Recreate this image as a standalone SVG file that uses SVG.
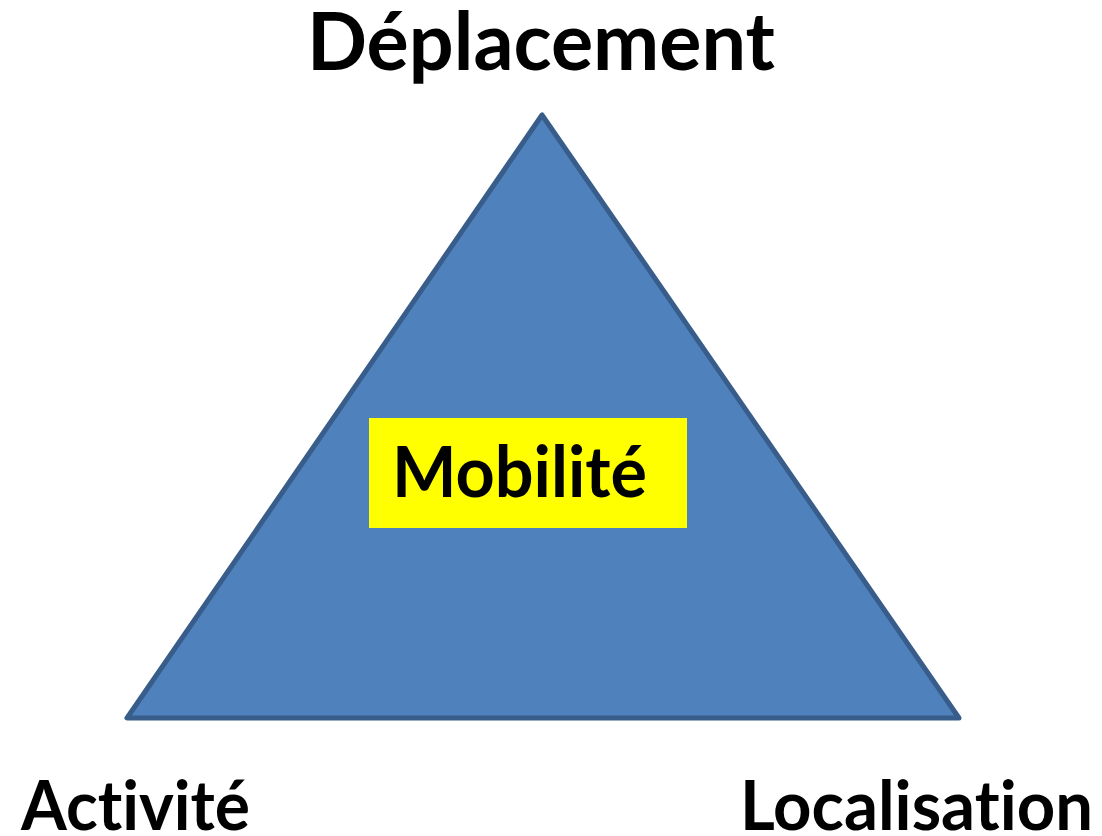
<svg xmlns="http://www.w3.org/2000/svg" width="1102" height="836" viewBox="0 0 1102 836">
  <style>
    .lbl { font-family: Lato, "Open Sans", "Liberation Sans", sans-serif; font-weight: bold; fill: #000; font-variant-ligatures: none; font-feature-settings: "liga" 0, "clig" 0; }
  </style>
  <rect width="1102" height="836" fill="#ffffff"/>
  <g id="triangle">
    <polygon points="542,115 127,718 959,718" fill="#4f81bd" stroke="#385d8a" stroke-width="5" stroke-linejoin="round"/>
  </g>
  <g id="mobilite">
    <rect x="369" y="418" width="318" height="110" fill="#ffff00"/>
    <text class="lbl" x="392" y="497" font-size="70" textLength="255" lengthAdjust="spacingAndGlyphs">Mobilité</text>
  </g>
  <g id="deplacement">
    <text class="lbl" x="307" y="70" font-size="80" textLength="468" lengthAdjust="spacingAndGlyphs">Déplacement</text>
  </g>
  <g id="activite">
    <text class="lbl" x="21" y="830" font-size="69" textLength="229" lengthAdjust="spacingAndGlyphs">Activité</text>
  </g>
  <g id="localisation">
    <text class="lbl" x="740" y="830" font-size="69" textLength="353" lengthAdjust="spacingAndGlyphs">Localisation</text>
  </g>
</svg>
